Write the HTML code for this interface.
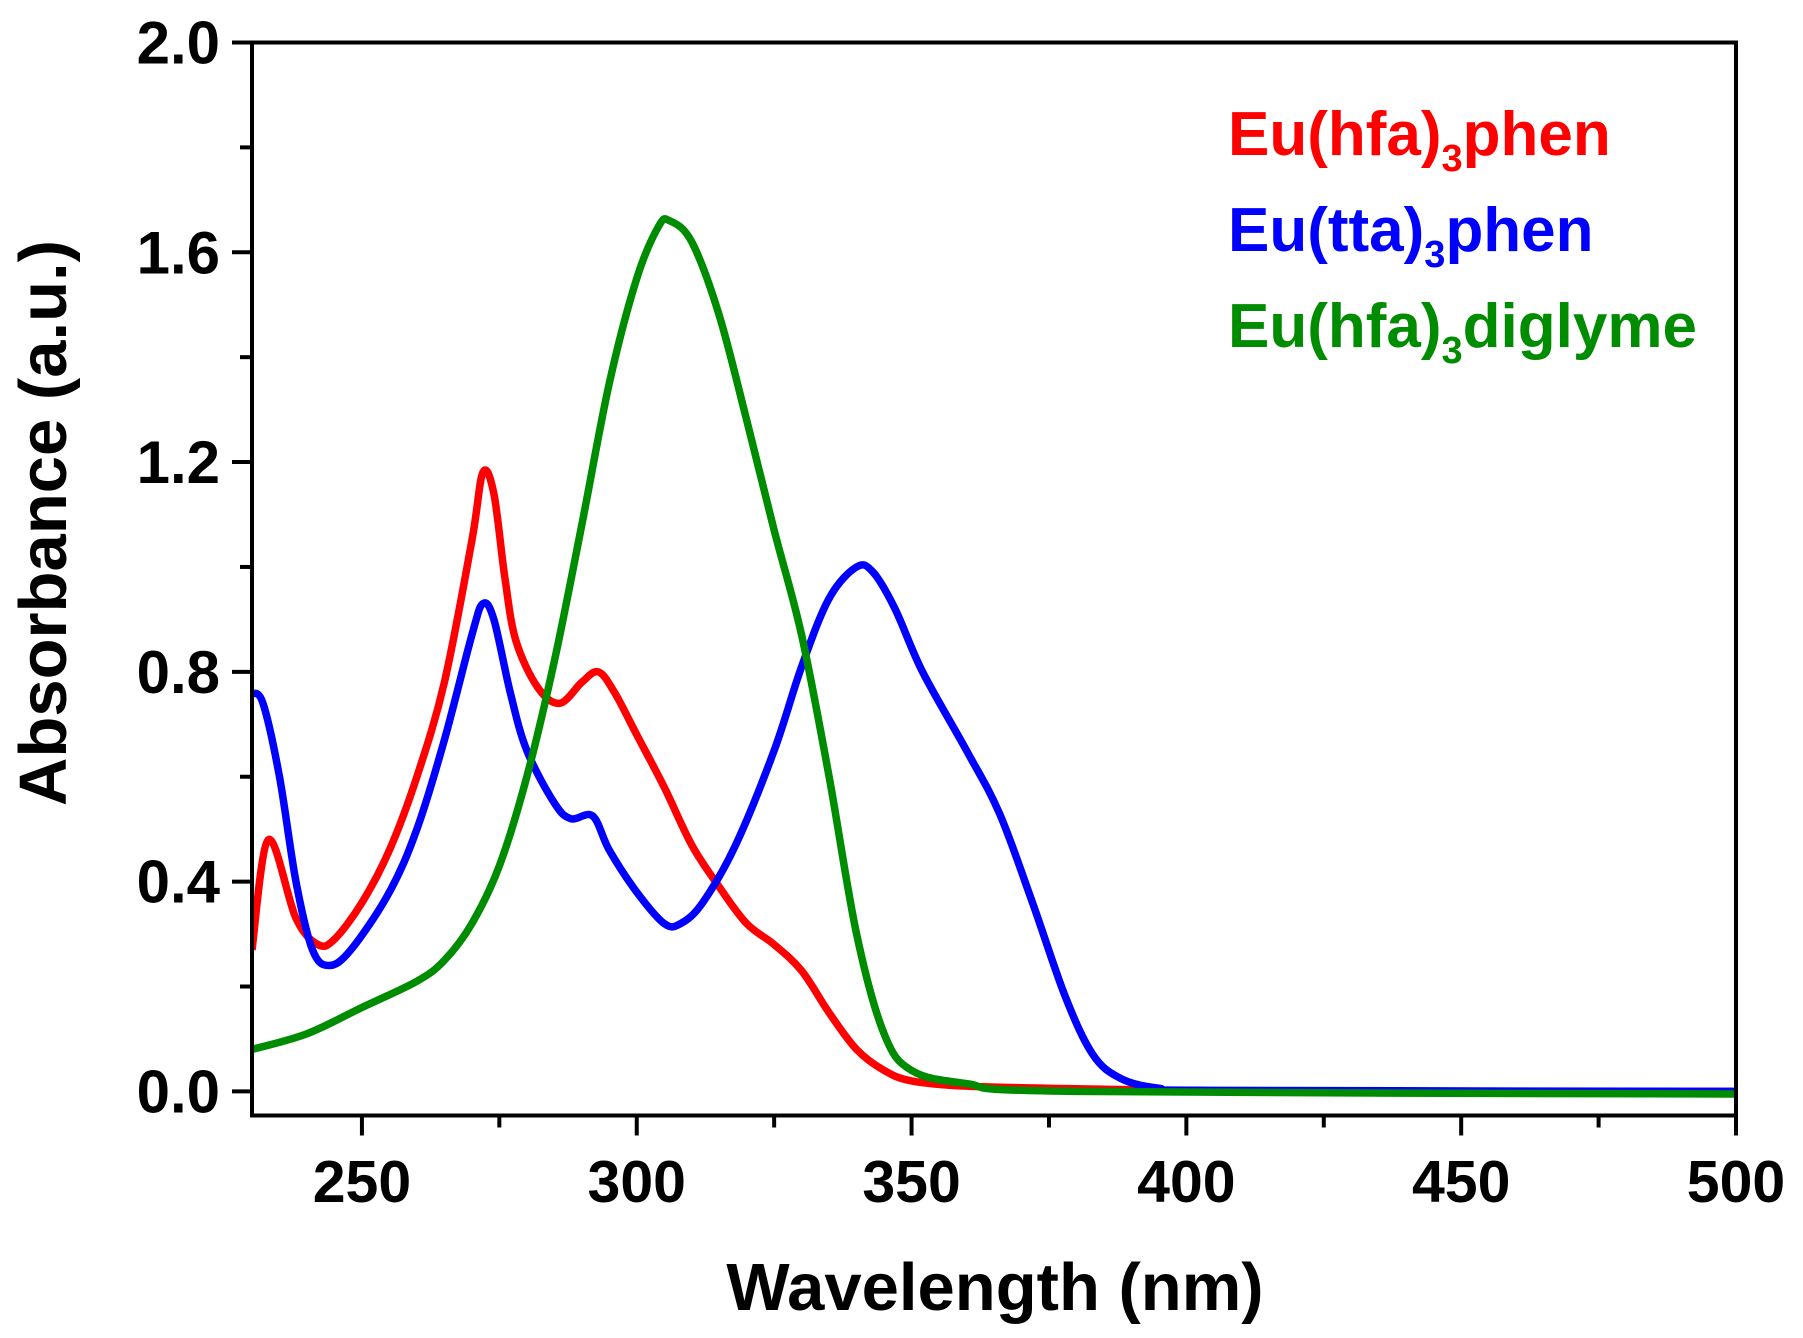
<!DOCTYPE html>
<html><head><meta charset="utf-8"><style>
html,body{margin:0;padding:0;background:#fff;}
svg{display:block;font-family:"Liberation Sans",Arial,sans-serif;font-weight:bold;}
</style></head><body>
<svg id="chart" width="1803" height="1338" viewBox="0 0 1803 1338">
<g id="plot"></g>
</svg>
<script>
const xTicks=[250,300,350,400,450,500];
const yTicks=[0.0,0.4,0.8,1.2,1.6,2.0];
const yTickLabels=["0.0","0.4","0.8","1.2","1.6","2.0"];
const hfaPhenX=[230,233,238,242,245,250,255,260,265,270,272,274,276,278,282,286,290,293,296,300,305,310,315,320,325,330,335,340,345,350,360,380,420,500];
const hfaPhenY=[0.27,0.48,0.33,0.28,0.29,0.36,0.46,0.6,0.78,1.05,1.18,1.14,0.98,0.86,0.77,0.74,0.78,0.80,0.76,0.68,0.58,0.47,0.39,0.32,0.28,0.23,0.15,0.08,0.04,0.02,0.01,0.005,0.0,0.0];
const ttaPhenX=[230,232,235,238,241,244,248,255,260,265,270,272,274,277,280,285,288,292,295,300,305,308,312,318,325,330,335,340,343,347,352,360,366,372,378,383,388,395,405,500];
const ttaPhenY=[0.76,0.74,0.6,0.4,0.27,0.24,0.27,0.38,0.5,0.67,0.87,0.93,0.9,0.76,0.65,0.55,0.52,0.525,0.46,0.38,0.32,0.32,0.36,0.47,0.65,0.81,0.94,1.0,0.99,0.92,0.8,0.65,0.53,0.36,0.18,0.07,0.025,0.006,0.002,0.0];
const diglymeX=[230,240,250,260,265,270,275,280,285,290,295,300,304,306,310,315,320,325,330,335,340,345,350,360,380,500];
const diglymeY=[0.08,0.11,0.16,0.21,0.25,0.32,0.43,0.6,0.82,1.08,1.35,1.55,1.65,1.66,1.62,1.48,1.28,1.07,0.87,0.6,0.3,0.11,0.04,0.015,0.0,-0.005];

const L=252,R=1736,T=42.5,B=1115.5;
const xMin=230,xMax=500,yMax=2.0;
const y0=1091.4;
function sx(v){return L+(v-xMin)*(R-L)/(xMax-xMin);}
function sy(v){return y0-(v)*(y0-T)/(yMax);}
const NS="http://www.w3.org/2000/svg";
const g=document.getElementById('plot');
function mk(tag,attrs,parent){const e=document.createElementNS(NS,tag);for(const k in attrs)e.setAttribute(k,attrs[k]);(parent||g).appendChild(e);return e;}

function path(xs,ys){
  const p=xs.map((x,i)=>[sx(x),sy(ys[i])]);
  let d="M"+p[0][0]+","+p[0][1];
  for(let i=0;i<p.length-1;i++){
    const p0=p[i-1]||p[i],p1=p[i],p2=p[i+1],p3=p[i+2]||p[i+1];
    const c1=[p1[0]+(p2[0]-p0[0])/6,p1[1]+(p2[1]-p0[1])/6];
    const c2=[p2[0]-(p3[0]-p1[0])/6,p2[1]-(p3[1]-p1[1])/6];
    d+=` C${c1[0]},${c1[1]} ${c2[0]},${c2[1]} ${p2[0]},${p2[1]}`;
  }
  return d;
}
const clip=mk('clipPath',{id:'clp'});
mk('rect',{x:L,y:T,width:R-L,height:B-T},clip);

const s1=mk('path',{d:path(hfaPhenX,hfaPhenY),fill:'none',stroke:'#ff0000','stroke-width':7.5,'stroke-linejoin':'round','clip-path':'url(#clp)'});


const s2=mk('path',{d:path(ttaPhenX,ttaPhenY),fill:'none',stroke:'#0000ff','stroke-width':7.5,'stroke-linejoin':'round','clip-path':'url(#clp)'});


const s3=mk('path',{d:path(diglymeX,diglymeY),fill:'none',stroke:'#008c00','stroke-width':7.5,'stroke-linejoin':'round','clip-path':'url(#clp)'});



const frame=mk('rect',{x:L,y:T,width:R-L,height:B-T,fill:'none',stroke:'#000','stroke-width':4});



for(let v=250;v<=500;v+=25){
  const major=v%50===0;
  const t=mk('line',{x1:sx(v),x2:sx(v),y1:B,y2:B+(major?20:12),stroke:'#000','stroke-width':4});
  
  
}
xTicks.forEach(v=>{
  const t=mk('text',{x:sx(v),y:1202,'text-anchor':'middle','font-size':59});
  t.textContent=v;
  
  
});
for(let i=0;i<=10;i++){
  const v=i*0.2;const major=i%2===0;
  const t=mk('line',{x1:L,x2:L-(major?20:12),y1:sy(v),y2:sy(v),stroke:'#000','stroke-width':4});
  
  
}
yTicks.forEach((v,i)=>{
  const t=mk('text',{x:220,y:sy(v)+21,'text-anchor':'end','font-size':60});
  t.textContent=yTickLabels[i];
  
  
});
const xt=mk('text',{x:995,y:1310,'text-anchor':'middle','font-size':67});
xt.textContent='Wavelength (nm)';


const yt=mk('text',{x:0,y:0,'text-anchor':'middle','font-size':67,transform:'translate(66,523) rotate(-90)'});
yt.textContent='Absorbance (a.u.)';



const legend=[['Eu(hfa)','phen','#ff0000',155],['Eu(tta)','phen','#0000ff',251],['Eu(hfa)','diglyme','#008c00',347]];
legend.forEach(l=>{
  const t=mk('text',{x:1228,y:l[3],'font-size':62,fill:l[2]});
  
  
  const a=mk('tspan',{},t);a.textContent=l[0];
  const b=mk('tspan',{dy:16,'font-size':38},t);b.textContent='3';
  const c=mk('tspan',{dy:-16},t);c.textContent=l[1];
});
</script>
</body></html>
